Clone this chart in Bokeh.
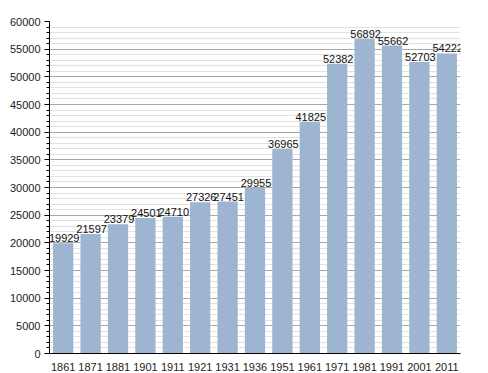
from bokeh.plotting import figure
from bokeh.models import ColumnDataSource, FactorRange, Range1d, FixedTicker, LabelSet
from bokeh.embed import file_html
from bokeh.resources import INLINE
from bokeh.core.properties import value

years = ["1861", "1871", "1881", "1901", "1911", "1921", "1931", "1936",
         "1951", "1961", "1971", "1981", "1991", "2001", "2011"]
population = [19929, 21597, 23379, 24501, 24710, 27326, 27451, 29955,
              36965, 41825, 52382, 56892, 55662, 52703, 54222]
y_ticks = list(range(0, 60001, 5000))
y_minor = list(range(0, 60001, 1000))

src = ColumnDataSource(dict(year=years, pop=population, label=[str(v) for v in population]))

p = figure(x_range=FactorRange(*years, range_padding=0), y_range=Range1d(0, 60000),
           width=480, height=373, output_backend="svg", toolbar_location=None,
           min_border_left=49, min_border_right=20, min_border_top=21, min_border_bottom=20)
p.outline_line_color = None
p.background_fill_color = "white"

p.vbar(x="year", top="pop", width=0.74, source=src, fill_color="#9db5d0", line_color=None)
labels = LabelSet(x="year", y="pop", text="label", source=src, text_align="center",
                  text_baseline="bottom", y_offset=1, x_offset=1, text_font=value("Liberation Sans"),
                  text_font_size=value("11px"), text_color=value("#111111"), level="overlay")
if "clip" in labels.properties():
    labels.clip = False
p.add_layout(labels)

p.xgrid.grid_line_color = None
p.ygrid.ticker = FixedTicker(ticks=y_ticks, minor_ticks=y_minor)
p.ygrid.grid_line_color = "#a8a8a8"
p.ygrid.minor_grid_line_color = "#e2e2e2"
p.ygrid.level = "underlay"

p.yaxis.ticker = FixedTicker(ticks=y_ticks, minor_ticks=y_minor)
p.yaxis.major_tick_out = 5
p.yaxis.major_tick_in = 0
p.yaxis.minor_tick_out = 3
p.yaxis.minor_tick_in = 0
p.yaxis.axis_line_color = "black"
p.yaxis.major_tick_line_color = "black"
p.yaxis.minor_tick_line_color = "black"
p.yaxis.major_label_text_font = "Liberation Sans"
p.yaxis.major_label_text_font_size = "11px"
p.yaxis.major_label_text_color = "#222222"
p.yaxis.major_label_standoff = 4

p.xaxis.major_tick_line_color = None
p.xaxis.minor_tick_line_color = None
p.xaxis.axis_line_color = "black"
p.xaxis.major_label_text_font = "Liberation Sans"
p.xaxis.major_label_text_font_size = "11px"
p.xaxis.major_label_text_color = "#222222"
p.xaxis.major_label_standoff = 3

open("out.html", "w").write(file_html(p, INLINE))
